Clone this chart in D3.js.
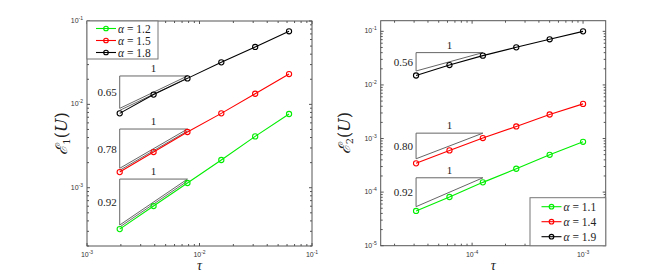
<!DOCTYPE html>
<html><head><meta charset="utf-8">
<script src="https://cdn.jsdelivr.net/npm/d3@7/dist/d3.min.js"></script>
<style>body{margin:0;background:#fff}svg{display:block}</style>
</head><body>
<svg id="c" width="670" height="276"></svg>
<script>
// ---- data ----
const tauL = [1/512, 1/256, 1/128, 1/64, 1/32, 1/16];
const errL12 = [3.19e-4, 6.03e-4, 1.14e-3, 2.15e-3, 4.13e-3, 7.66e-3];
const errL15 = [1.54e-3, 2.68e-3, 4.66e-3, 7.8e-3, 1.34e-2, 2.31e-2];
const errL18 = [7.8e-3, 1.31e-2, 2.05e-2, 3.19e-2, 4.88e-2, 7.52e-2];
const legendL = ["1.2", "1.5", "1.8"];
const triTopL = [2.19e-2, 5.06e-3, 1.27e-3];
const triBotL = [8.95e-3, 1.71e-3, 3.57e-4];
const triLabL = ["0.65", "0.78", "0.92"];

const tauR = [3.125e-5, 6.25e-5, 1.25e-4, 2.5e-4, 5e-4, 1e-3];
const errR11 = [4.45e-5, 8.1e-5, 1.52e-4, 2.73e-4, 4.97e-4, 8.69e-4];
const errR14 = [3.44e-4, 6.0e-4, 1.02e-3, 1.68e-3, 2.81e-3, 4.43e-3];
const errR19 = [1.50e-2, 2.35e-2, 3.52e-2, 5.03e-2, 7.10e-2, 0.1];
const legendR = ["1.1", "1.4", "1.9"];
const triTopR = [4.01e-2, 1.26e-3, 1.85e-4];
const triBotR = [1.82e-2, 4.19e-4, 5.35e-5];
const triLabR = ["0.56", "0.80", "0.92"];

const colors = ["#00ee00", "#ff0000", "#000000"];
const svg = d3.select("#c");
const axisCol = "#555";

function supLabel(g, exp) {
  g.append("tspan").text("10");
  g.append("tspan").attr("dy", -3).attr("font-size", 5).text(exp);
}

function panel(o) {
  const x = d3.scaleLog().domain(o.xd).range([o.x0, o.x1]);
  const y = d3.scaleLog().domain(o.yd).range([o.y1, o.y0]);
  const g = svg.append("g");

  // box
  g.append("rect").attr("x", o.x0).attr("y", o.y0).attr("width", o.x1 - o.x0).attr("height", o.y1 - o.y0)
    .attr("fill", "#fff").attr("stroke", axisCol).attr("stroke-width", 1);

  // ticks
  const isMajor = v => Math.abs(Math.log10(v) - Math.round(Math.log10(v))) < 1e-6;
  const xt = x.ticks().filter(v => v > o.xd[0] * 1.0001 || isMajor(v));
  xt.forEach(v => {
    const L = isMajor(v) ? 3 : 2;
    const px = x(v);
    g.append("line").attr("x1", px).attr("x2", px).attr("y1", o.y1).attr("y2", o.y1 - L).attr("stroke", axisCol);
    g.append("line").attr("x1", px).attr("x2", px).attr("y1", o.y0).attr("y2", o.y0 + L).attr("stroke", axisCol);
    if (isMajor(v)) {
      const t = g.append("text").attr("x", px).attr("y", o.y1 + 11).attr("text-anchor", "middle")
        .attr("font-family", "Liberation Sans, Arial, sans-serif").attr("font-size", 7).attr("fill", "#333");
      supLabel(t, Math.round(Math.log10(v)));
    }
  });
  const yt = y.ticks();
  yt.forEach(v => {
    const L = isMajor(v) ? 3 : 2;
    const py = y(v);
    g.append("line").attr("y1", py).attr("y2", py).attr("x1", o.x0).attr("x2", o.x0 + L).attr("stroke", axisCol);
    g.append("line").attr("y1", py).attr("y2", py).attr("x1", o.x1).attr("x2", o.x1 - L).attr("stroke", axisCol);
    if (isMajor(v)) {
      const t = g.append("text").attr("x", o.x0 - 4).attr("y", py + 2).attr("text-anchor", "end")
        .attr("font-family", "Liberation Sans, Arial, sans-serif").attr("font-size", 7).attr("fill", "#333");
      supLabel(t, Math.round(Math.log10(v)));
    }
  });

  // slope triangles
  o.triTop.forEach((top, i) => {
    const xa = x(o.tau[0]), xb = x(o.tau[2]);
    const yt_ = y(top), yb = y(o.triBot[i]);
    g.append("path").attr("d", `M${xa},${yb}L${xa},${yt_}L${xb},${yt_}Z`)
      .attr("fill", "none").attr("stroke", "#666").attr("stroke-width", 1);
    if (o.double) {
      g.append("line").attr("x1", xa).attr("y1", yb + 2).attr("x2", xb).attr("y2", yt_ + 2)
        .attr("stroke", "#444").attr("stroke-width", 0.8);
    }
    g.append("text").attr("x", (xa + xb) / 2).attr("y", yt_ - 4).attr("text-anchor", "middle")
      .attr("font-family", "Liberation Serif, serif").attr("font-size", 11).attr("fill", "#222").text("1");
    g.append("text").attr("x", xa - 3).attr("y", (yt_ + yb) / 2 + 4).attr("text-anchor", "end")
      .attr("font-family", "Liberation Serif, serif").attr("font-size", 11).attr("fill", "#222").text(o.triLab[i]);
  });

  // series
  const line = d3.line().x((d, i) => x(o.tau[i])).y(d => y(d));
  o.series.forEach((s, k) => {
    g.append("path").attr("d", line(s)).attr("fill", "none").attr("stroke", colors[k]).attr("stroke-width", 1.1);
    g.selectAll(null).data(s).enter().append("circle")
      .attr("cx", (d, i) => x(o.tau[i])).attr("cy", d => y(d)).attr("r", 2.6)
      .attr("fill", "none").attr("stroke", colors[k]).attr("stroke-width", 1.1);
  });

  // legend
  const lg = o.legend;
  g.append("rect").attr("x", lg.x).attr("y", lg.y).attr("width", lg.w).attr("height", lg.h)
    .attr("fill", "#fff").attr("stroke", "#777").attr("stroke-width", 1);
  o.legendLabels.forEach((lab, k) => {
    const yy = lg.y + lg.first + k * lg.step;
    g.append("line").attr("x1", lg.x + lg.lx0).attr("x2", lg.x + lg.lx0 + 20).attr("y1", yy).attr("y2", yy)
      .attr("stroke", colors[k]).attr("stroke-width", 1.1);
    g.append("circle").attr("cx", lg.x + lg.lx0 + 10).attr("cy", yy).attr("r", 2.3)
      .attr("fill", "none").attr("stroke", colors[k]).attr("stroke-width", 1.1);
    const t = g.append("text").attr("x", lg.x + lg.lx0 + 22).attr("y", yy + 4)
      .attr("font-family", "Liberation Serif, serif").attr("font-size", 11.5).attr("fill", "#222");
    t.append("tspan").attr("font-style", "italic").text("α");
    t.append("tspan").text(" = " + lab);
  });

  // axis labels
  const xl = g.append("text").attr("x", (o.x0 + o.x1) / 2).attr("y", 270).attr("text-anchor", "middle")
    .attr("font-family", "Liberation Serif, serif").attr("font-size", 14).attr("font-style", "italic").attr("fill", "#222").text("τ");
  const yl = g.append("text").attr("transform", `translate(${o.ylx},${(o.y0 + o.y1) / 2}) rotate(-90)`)
    .attr("text-anchor", "middle").attr("font-family", "DejaVu Serif, Liberation Serif, serif").attr("font-size", 16).attr("fill", "#222");
  yl.append("tspan").attr("font-style", "italic").text("ℰ");
  yl.append("tspan").attr("font-size", 10).attr("dy", 3).text(o.sub);
  yl.append("tspan").attr("dy", -3).text("(");
  yl.append("tspan").attr("font-style", "italic").text("U");
  yl.append("tspan").text(")");
}

panel({
  x0: 87, x1: 312, y0: 21, y1: 246,
  xd: [1e-3, 1e-1], yd: [2e-4, 1e-1],
  tau: tauL, series: [errL12, errL15, errL18],
  triTop: triTopL, triBot: triBotL, triLab: triLabL, double: true,
  legend: { x: 87, y: 21, w: 71, h: 38, first: 7.5, step: 12, lx0: 9 },
  legendLabels: legendL, ylx: 67, sub: "1"
});
panel({
  x0: 380.7, x1: 605.7, y0: 20.7, y1: 245.7,
  xd: [1.5e-5, 1.6e-3], yd: [1e-5, 0.158],
  tau: tauR, series: [errR11, errR14, errR19],
  triTop: triTopR, triBot: triBotR, triLab: triLabR, double: false,
  legend: { x: 530, y: 197.7, w: 75.7, h: 48, first: 9, step: 15, lx0: 11.5 },
  legendLabels: legendR, ylx: 350, sub: "2"
});
</script>
</body></html>
